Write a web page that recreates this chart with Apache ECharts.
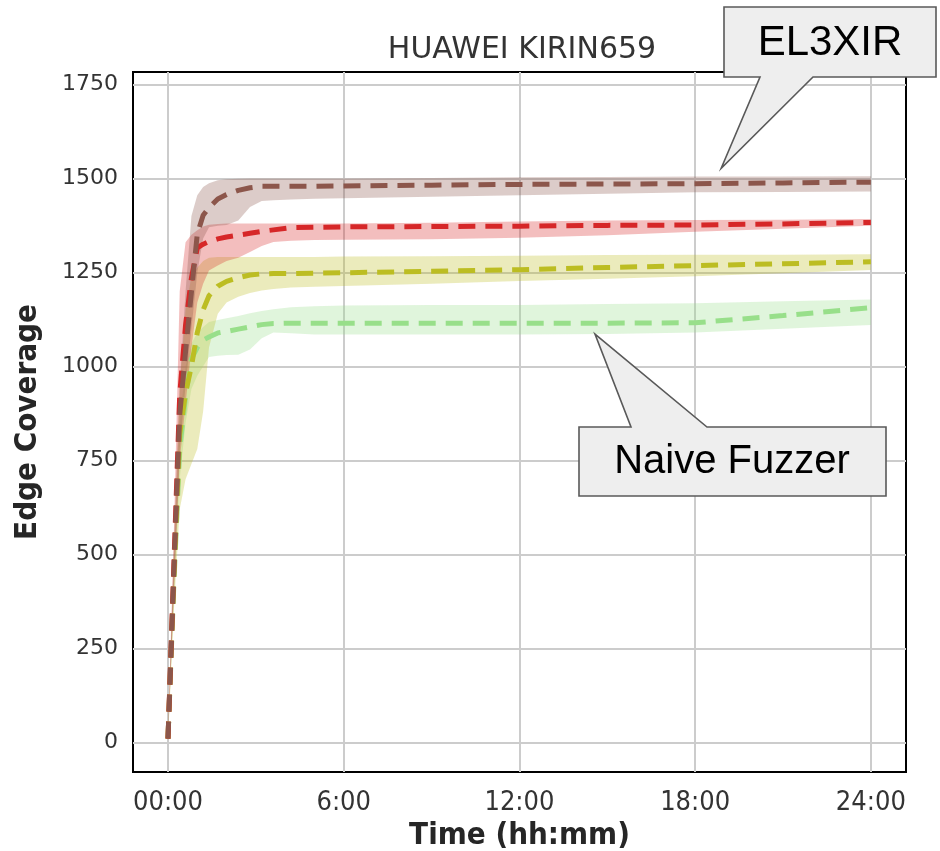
<!DOCTYPE html>
<html><head><meta charset="utf-8">
<script src="https://cdn.jsdelivr.net/npm/echarts@6/dist/echarts.min.js"></script>
<style>html,body{margin:0;padding:0;background:#fff}#c{width:940px;height:851px}</style>
</head><body><div id="c"></div><script>
// ---- data (hours, edge coverage) ----
const times = [0, 0.2, 0.4, 0.6, 0.8, 1.0, 1.2, 1.4, 1.7, 2.0, 2.4, 2.8, 3.2, 3.6, 4.2, 5, 6, 9, 12, 15, 18, 21, 24];

const brownMean  = [10, 455, 870, 1040, 1197, 1352, 1402, 1422, 1445, 1457, 1468, 1475, 1479, 1479, 1479, 1479, 1480, 1482, 1484, 1485, 1486, 1488, 1490];
const brownUpper = [15, 520, 950, 1200, 1400, 1455, 1477, 1487, 1495, 1498, 1499, 1500, 1500, 1500, 1500, 1500, 1500, 1501, 1503, 1504, 1505, 1505, 1506];
const brownLower = [5, 400, 780, 950, 1100, 1250, 1340, 1370, 1374, 1376, 1388, 1424, 1440, 1442, 1444, 1446, 1447, 1451, 1455, 1459, 1463, 1464, 1465];

const redMean  = [10, 470, 925, 1110, 1235, 1315, 1325, 1332, 1339, 1344, 1349, 1354, 1359, 1363, 1369, 1370, 1371, 1372, 1373, 1375, 1376, 1379, 1383];
const redUpper = [15, 560, 1200, 1330, 1350, 1362, 1372, 1377, 1379, 1380, 1380, 1380, 1380, 1380, 1380, 1380, 1380, 1382, 1385, 1388, 1389, 1390, 1392];
const redLower = [5, 400, 750, 900, 1050, 1170, 1220, 1255, 1268, 1280, 1289, 1304, 1320, 1331, 1334, 1336, 1337, 1338, 1342, 1349, 1358, 1366, 1374];

const oliveMean  = [10, 440, 820, 930, 1000, 1090, 1150, 1188, 1213, 1226, 1236, 1243, 1246, 1247, 1247, 1248, 1249, 1253, 1257, 1263, 1268, 1273, 1278];
const oliveUpper = [15, 500, 950, 1150, 1240, 1262, 1280, 1289, 1291, 1291, 1291, 1291, 1291, 1291, 1291, 1291, 1292, 1293, 1294, 1296, 1297, 1297, 1298];
const oliveLower = [5, 350, 620, 700, 740, 780, 880, 1050, 1140, 1170, 1185, 1195, 1202, 1206, 1210, 1212, 1214, 1220, 1227, 1233, 1240, 1248, 1256];

const greenMean  = [10, 420, 780, 920, 1020, 1050, 1070, 1078, 1089, 1093, 1099, 1105, 1111, 1114, 1115, 1115, 1115, 1115, 1115, 1115, 1116, 1135, 1156];
const greenUpper = [15, 450, 850, 1000, 1060, 1090, 1105, 1118, 1123, 1128, 1134, 1141, 1147, 1152, 1157, 1160, 1162, 1163, 1163, 1166, 1168, 1173, 1178];
const greenLower = [5, 380, 700, 850, 940, 975, 1000, 1025, 1028, 1030, 1031, 1045, 1075, 1090, 1088, 1085, 1085, 1085, 1085, 1086, 1090, 1100, 1110];

const xTicks = [0, 6, 12, 18, 24];
const xTickLabels = ['00:00', '6:00', '12:00', '18:00', '24:00'];
const yTicks = [0, 250, 500, 750, 1000, 1250, 1500, 1750];

const seriesDefs = [
  { name: 'Naive Fuzzer', mean: greenMean, upper: greenUpper, lower: greenLower, color: '#98df8a', band: 'rgba(152,223,138,0.3)' },
  { name: 'Variant B', mean: oliveMean, upper: oliveUpper, lower: oliveLower, color: '#bcbd22', band: 'rgba(188,189,34,0.3)' },
  { name: 'Variant A', mean: redMean, upper: redUpper, lower: redLower, color: '#d62728', band: 'rgba(214,39,40,0.3)' },
  { name: 'EL3XIR', mean: brownMean, upper: brownUpper, lower: brownLower, color: '#8c564b', band: 'rgba(140,86,75,0.3)' }
];

const chart = echarts.init(document.getElementById('c'), null, { renderer: 'canvas' });

const series = [];
seriesDefs.forEach(function (d, k) {
  series.push({
    type: 'custom',
    name: d.name + ' band',
    silent: true,
    clip: true,
    z: 1 + k,
    encode: { x: 0, y: [1, 2] },
    data: times.map(function (t, i) { return [t, d.upper[i], d.lower[i]]; }),
    renderItem: function (params, api) {
      if (params.dataIndex !== 0) return null;
      const pts = [];
      for (let i = 0; i < times.length; i++) pts.push(api.coord([times[i], d.upper[i]]));
      for (let i = times.length - 1; i >= 0; i--) pts.push(api.coord([times[i], d.lower[i]]));
      return { type: 'polygon', shape: { points: pts }, style: { fill: d.band, stroke: null } };
    }
  });
});
seriesDefs.forEach(function (d, k) {
  series.push({
    type: 'line',
    name: d.name,
    data: times.map(function (t, i) { return [t, d.mean[i]]; }),
    showSymbol: false,
    silent: true,
    z: 10 + k,
    lineStyle: { color: d.color, width: 5, type: [17, 10], cap: 'butt' }
  });
});

chart.setOption({
  animation: false,
  backgroundColor: '#ffffff',
  title: {
    text: 'HUAWEI KIRIN659',
    left: 517, top: 30, textAlign: 'center',
    textStyle: { fontFamily: 'DejaVu Sans', fontSize: 30, fontWeight: 'normal', color: '#333333' }
  },
  grid: { left: 133, right: 34, top: 72, bottom: 79, outerBoundsMode: 'none', containLabel: false, show: true, borderColor: '#000000', borderWidth: 2, backgroundColor: 'transparent' },
  xAxis: {
    type: 'value', min: -1.195, max: 25.2,
    name: 'Time (hh:mm)', nameLocation: 'middle', nameGap: 47,
    nameTextStyle: { fontFamily: 'DejaVu Sans Condensed', fontWeight: 'bold', fontSize: 31, color: '#262626' },
    axisLine: { show: false },
    axisTick: { show: false, customValues: xTicks },
    splitLine: { show: true, lineStyle: { color: '#cccccc', width: 2 } },
    axisLabel: {
      customValues: xTicks, margin: 17,
      fontFamily: 'DejaVu Sans Condensed', fontSize: 27, color: '#333333',
      formatter: function (v) { const i = xTicks.indexOf(v); return i >= 0 ? xTickLabels[i] : ''; }
    }
  },
  yAxis: {
    type: 'value', min: -79, max: 1783,
    name: 'Edge Coverage', nameLocation: 'middle', nameGap: 90, nameRotate: 90,
    nameTextStyle: { fontFamily: 'DejaVu Sans Condensed', fontWeight: 'bold', fontSize: 31, color: '#262626' },
    axisLine: { show: false },
    axisTick: { show: false, customValues: yTicks },
    splitLine: { show: true, lineStyle: { color: '#cccccc', width: 2 } },
    axisLabel: {
      customValues: yTicks, margin: 15, fontFamily: 'DejaVu Sans', fontSize: 22, color: '#333333',
      formatter: function (v) { return String(v); }
    }
  },
  series: series
});

// callout annotations anchored to data positions
const tipA = chart.convertToPixel({ gridIndex: 0 }, [18.89, 1527]);
const tipB = chart.convertToPixel({ gridIndex: 0 }, [14.58, 1086]);
const calloutStyle = { fill: '#eeeeee', stroke: '#595959', lineWidth: 1.6 };
chart.setOption({
  graphic: [
    { type: 'polygon', z: 100, shape: { points: [[724, 7], [936, 7], [936, 77], [813, 77], tipA, [760, 77], [724, 77]] }, style: calloutStyle },
    { type: 'text', z: 101, x: 830, y: 43, style: { text: 'EL3XIR', font: '42px "Liberation Sans", Arial, sans-serif', fill: '#000000', textAlign: 'center', textVerticalAlign: 'middle' } },
    { type: 'polygon', z: 100, shape: { points: [[579, 427], [631, 427], tipB, [707, 427], [886, 427], [886, 496], [579, 496]] }, style: calloutStyle },
    { type: 'text', z: 101, x: 732, y: 462, style: { text: 'Naive Fuzzer', font: '40px "Liberation Sans", Arial, sans-serif', fill: '#000000', textAlign: 'center', textVerticalAlign: 'middle' } }
  ]
});
</script></body></html>
